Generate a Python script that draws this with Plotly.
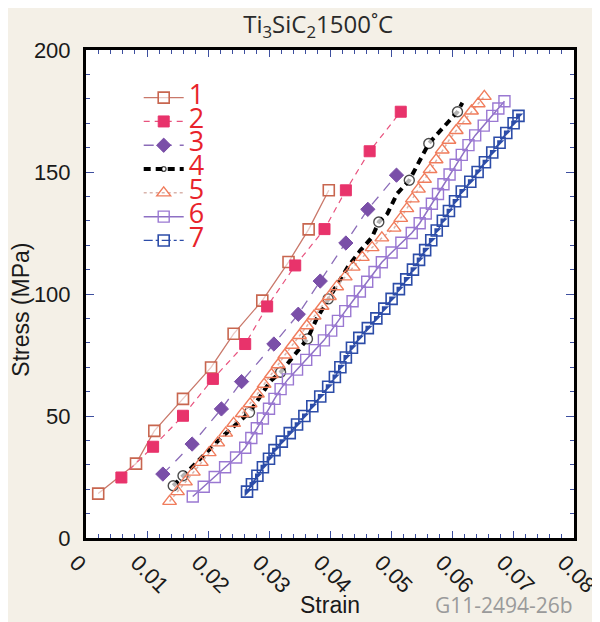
import plotly.graph_objects as go

# ---------------- data (strain, stress in MPa) ----------------
s1_strain = [0.0020, 0.0082, 0.0112, 0.0159, 0.0205, 0.0242, 0.0289, 0.0332, 0.0365, 0.0398]
s1_stress = [18.2, 30.5, 43.9, 57.0, 69.9, 83.7, 97.3, 113.1, 126.5, 142.5]

s2_strain = [0.0058, 0.0110, 0.0159, 0.0208, 0.0261, 0.0297, 0.0343, 0.0391, 0.0426, 0.0465, 0.0516]
s2_stress = [24.8, 37.4, 50.1, 65.2, 79.5, 94.9, 111.7, 126.6, 142.5, 158.5, 174.7]

s3_strain = [0.0126, 0.0174, 0.0222, 0.0255, 0.0308, 0.0348, 0.0384, 0.0426, 0.0462, 0.0509]
s3_stress = [26.2, 38.5, 52.9, 64.1, 79.5, 91.7, 105.3, 120.9, 134.7, 148.7]

s4_strain = [0.0143, 0.0159, 0.0189, 0.0222, 0.0268, 0.0303, 0.0319, 0.0363, 0.0378, 0.0397,
             0.0405, 0.0429, 0.0450, 0.0469, 0.0480, 0.0494, 0.0510, 0.0530, 0.0562, 0.0609, 0.0617]
s4_stress = [21.4, 25.5, 33.0, 41.2, 51.5, 64.5, 67.9, 81.6, 89.8, 98.0,
             101.4, 111.0, 117.9, 123.3, 129.5, 132.9, 141.1, 146.6, 161.7, 174.7, 178.4]
s4_circle = [1, 1, 0, 0, 1, 0, 1, 1, 0, 1, 0, 0, 0, 0, 1, 0, 0, 1, 1, 1, 0]

s5_strain = [0.0137, 0.0150, 0.0163, 0.0176, 0.0189, 0.0202, 0.0216, 0.0229, 0.0242, 0.0256,
             0.0269, 0.0281, 0.0292, 0.0304, 0.0315, 0.0326, 0.0338, 0.0350, 0.0362, 0.0374,
             0.0387, 0.0399, 0.0411, 0.0425, 0.0438, 0.0453, 0.0469, 0.0485, 0.0505, 0.0516,
             0.0526, 0.0535, 0.0545, 0.0555, 0.0564, 0.0574, 0.0584, 0.0595, 0.0607, 0.0620,
             0.0632, 0.0643, 0.0653]
s5_stress = [15, 19, 23, 27, 31, 35, 39, 43, 47, 51,
             55, 59, 63, 67, 71, 75, 79, 83, 87, 91,
             95, 99, 103, 107, 111, 115, 119, 123, 127, 131,
             135, 139, 143, 147, 151, 155, 159, 163, 167, 171,
             175, 178, 181]

s6_strain = [0.0175, 0.0193, 0.0211, 0.0228, 0.0246, 0.0261, 0.0271, 0.0280, 0.0290, 0.0300,
             0.0309, 0.0319, 0.0331, 0.0346, 0.0361, 0.0375, 0.0390, 0.0402, 0.0413, 0.0425,
             0.0437, 0.0449, 0.0461, 0.0473, 0.0485, 0.0501, 0.0517, 0.0534, 0.0547, 0.0557,
             0.0567, 0.0577, 0.0586, 0.0596, 0.0606, 0.0616, 0.0627, 0.0638, 0.0652, 0.0666,
             0.0676, 0.0686]
s6_stress = [17, 21, 25, 29, 33, 37, 41, 45, 49, 53,
             57, 61, 65, 69, 73, 77, 81, 85, 89, 93,
             97, 101, 105, 109, 113, 117, 121, 125, 129, 133,
             137, 141, 145, 149, 153, 157, 161, 165, 169, 173,
             176, 179]

s7_strain = [0.0264, 0.0272, 0.0281, 0.0290, 0.0300, 0.0309, 0.0321, 0.0334, 0.0346, 0.0358,
             0.0371, 0.0384, 0.0397, 0.0408, 0.0417, 0.0426, 0.0436, 0.0448, 0.0462, 0.0476,
             0.0489, 0.0501, 0.0513, 0.0525, 0.0536, 0.0546, 0.0556, 0.0566, 0.0575, 0.0585,
             0.0595, 0.0605, 0.0616, 0.0630, 0.0642, 0.0654, 0.0666, 0.0678, 0.0689, 0.0701,
             0.0709]
s7_stress = [19, 22, 25.5, 29, 32.5, 36, 39.5, 43, 46.5, 50,
             54, 58, 62, 66, 70, 74, 78, 82, 86, 90,
             94, 98, 102, 106, 110, 114, 118, 122, 126, 130,
             134, 138, 142, 146, 150, 154, 158, 162, 166, 170,
             173]

series_labels = ["1", "2", "3", "4", "5", "6", "7"]
x_ticks = [0, 0.01, 0.02, 0.03, 0.04, 0.05, 0.06, 0.07, 0.08]
y_ticks = [0, 50, 100, 150, 200]

# ---------------- figure ----------------
LABEL_RED = "#e8232b"


def lname(t):
    return '<span style="font-size:27px">' + t + '</span>'


fig = go.Figure()

fig.add_trace(go.Scatter(
    x=s1_strain, y=s1_stress, name=lname(series_labels[0]), mode="lines+markers",
    line=dict(color="#c9786a", width=1.3),
    marker=dict(symbol="square", size=11, color="rgba(255,255,255,0.6)",
                line=dict(color="#c8664f", width=1.6))))

fig.add_trace(go.Scatter(
    x=s2_strain, y=s2_stress, name=lname(series_labels[1]), mode="lines+markers",
    line=dict(color="#e8527e", width=1.2, dash="6px,5px"),
    marker=dict(symbol="square", size=11, color="#e8336b",
                line=dict(color="#e8336b", width=1))))

fig.add_trace(go.Scatter(
    x=s3_strain, y=s3_stress, name=lname(series_labels[2]), mode="lines+markers",
    line=dict(color="#8b6cb8", width=1.3, dash="10px,8px"),
    marker=dict(symbol="diamond", size=11, color="#7a4fa8",
                line=dict(color="#7a4fa8", width=1))))

fig.add_trace(go.Scatter(
    x=s4_strain, y=s4_stress, name=lname(series_labels[3]), mode="lines+markers",
    line=dict(color="black", width=4, dash="7px,5px"),
    marker=dict(symbol="circle", size=[10 if c else 0 for c in s4_circle],
                color="white", line=dict(color="black", width=1.4))))

fig.add_trace(go.Scatter(
    x=s5_strain, y=s5_stress, name=lname(series_labels[4]), mode="lines+markers",
    line=dict(color="#d9b4ac", width=1.5, dash="dot"),
    marker=dict(symbol="triangle-up-open", size=12, color="#f07c5c",
                line=dict(width=1.4))))

fig.add_trace(go.Scatter(
    x=s6_strain, y=s6_stress, name=lname(series_labels[5]), mode="lines+markers",
    line=dict(color="#8e70c4", width=1.5),
    marker=dict(symbol="square-open", size=11, color="#9a78d2",
                line=dict(width=1.4))))

fig.add_trace(go.Scatter(
    x=s7_strain, y=s7_stress, name=lname(series_labels[6]), mode="lines+markers",
    line=dict(color="#2c4ca8", width=1.3, dash="dashdot"),
    marker=dict(symbol="square-open", size=11, color="#2c4ca8",
                line=dict(width=1.6))))

fig.add_trace(go.Scatter(
    x=s7_strain, y=s7_stress, mode="markers", showlegend=False, hoverinfo="skip",
    marker=dict(symbol="triangle-nw", size=8, color="#2c4ca8", line=dict(width=0))))

TICK_BLUE = "#3d4f9f"
AX_FONT = "Liberation Sans, Arial"
fig.update_xaxes(
    range=[0, 0.08], tickvals=x_ticks, ticktext=["0"] + [f"{v:.2f}" for v in x_ticks[1:]],
    ticks="inside", ticklen=7, tickwidth=1, tickcolor=TICK_BLUE,
    minor=dict(dtick=0.002, tick0=0, ticks="inside", ticklen=4, tickcolor=TICK_BLUE, tickwidth=1),
    showline=True, linecolor="black", linewidth=3, mirror="allticks",
    showgrid=False, zeroline=False, tickangle=45, automargin=False,
    ticklabeloverflow="allow", ticklabelshift=-10,
    tickfont=dict(family=AX_FONT, size=22, color="#1a1a1a"))

fig.update_yaxes(
    range=[0, 200], tickvals=y_ticks,
    ticks="inside", ticklen=8, tickwidth=1, tickcolor=TICK_BLUE,
    minor=dict(dtick=10, tick0=0, ticks="inside", ticklen=4, tickcolor=TICK_BLUE, tickwidth=1),
    showline=True, linecolor="black", linewidth=3, mirror="allticks",
    showgrid=False, zeroline=False, ticklabelstandoff=8, automargin=False,
    ticklabeloverflow="allow",
    tickfont=dict(family=AX_FONT, size=22, color="#1a1a1a"))

# the page body adds an 8 px offset, so margins are set 8 px smaller at left/top
fig.update_layout(
    width=600, height=622,
    margin=dict(l=78, r=34, t=42, b=92, autoexpand=False),
    paper_bgcolor="#f4f0e7", plot_bgcolor="white",
    title=dict(text="Ti<sub>3</sub>SiC<sub>2</sub>1500˚C", x=0.517, xanchor="center",
               y=0.973, yanchor="middle", yref="container", automargin=False,
               font=dict(family="Open Sans", size=24, color="#2a2a2a")),
    legend=dict(x=0.108, y=0.937, xanchor="left", yanchor="top", bgcolor="rgba(0,0,0,0)",
                font=dict(family="Open Sans", size=16, color=LABEL_RED),
                tracegroupgap=0, itemwidth=40),
    annotations=[
        dict(text="Strain", xref="paper", yref="paper", x=0.5, y=-0.137,
             xanchor="center", yanchor="middle", showarrow=False,
             font=dict(family=AX_FONT, size=23, color="#1a1a1a")),
        dict(text="Stress (MPa)", xref="paper", yref="paper", x=-0.134, y=0.467,
             xanchor="center", yanchor="middle", showarrow=False, textangle=-90,
             font=dict(family=AX_FONT, size=23, color="#1a1a1a")),
        dict(text="G11-2494-26b", xref="paper", yref="paper", x=1.002, y=-0.137,
             xanchor="right", yanchor="middle", showarrow=False,
             font=dict(family="Open Sans", size=21, color="#9a9a9a")),
    ],
)

fig.write_html("out.html")
